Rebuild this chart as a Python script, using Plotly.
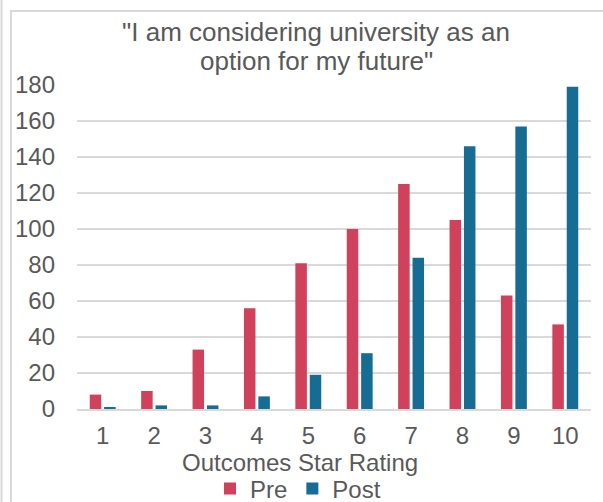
import plotly.graph_objects as go

categories = ["1", "2", "3", "4", "5", "6", "7", "8", "9", "10"]
pre_values = [8, 10, 33, 56, 81, 100, 125, 105, 63, 47]
post_values = [1, 2, 2, 7, 19, 31, 84, 146, 157, 179]
y_ticks = [0, 20, 40, 60, 80, 100, 120, 140, 160, 180]
title_lines = ["\"I am considering university as an", "option for my future\""]
x_title = "Outcomes Star Rating"

W, H = 603, 502
L, R, T, B = 77, 12, 85, 93
PW = W - L - R
PH = H - T - B


def px_x(x):
    return (x - L) / PW


def px_y(y):
    return (H - B - y) / PH


FONT = "Liberation Sans, Arial, sans-serif"
TXT = "#595959"
GRID = "#D9D9D9"

fig = go.Figure()
fig.add_trace(go.Bar(name="Pre", x=categories, y=pre_values,
                     marker=dict(color="#D0415B", line=dict(width=0))))
fig.add_trace(go.Bar(name="Post", x=categories, y=post_values,
                     marker=dict(color="#176C93", line=dict(width=0))))

shapes = [
    dict(type="line", xref="paper", yref="paper",
         x0=px_x(1.5), x1=px_x(1.5), y0=px_y(0), y1=px_y(H),
         line=dict(color=GRID, width=2)),
    dict(type="line", xref="paper", yref="paper",
         x0=px_x(11), x1=px_x(11), y0=px_y(11), y1=px_y(H),
         line=dict(color=GRID, width=2)),
    dict(type="line", xref="paper", yref="paper",
         x0=px_x(10), x1=px_x(W), y0=px_y(11), y1=px_y(11),
         line=dict(color=GRID, width=2)),
]

annotations = [
    dict(text=title_lines[0], xref="paper", yref="paper",
         x=px_x(316), y=px_y(32), xanchor="center", yanchor="middle",
         showarrow=False, font=dict(family=FONT, size=26, color=TXT)),
    dict(text=title_lines[1], xref="paper", yref="paper",
         x=px_x(316), y=px_y(61), xanchor="center", yanchor="middle",
         showarrow=False, font=dict(family=FONT, size=26, color=TXT)),
    dict(text=x_title, xref="paper", yref="paper",
         x=px_x(300), y=px_y(462), xanchor="center", yanchor="middle",
         showarrow=False, font=dict(family=FONT, size=24, color=TXT)),
]

fig.update_layout(
    width=W, height=H,
    margin=dict(l=L, r=R, t=T, b=B, pad=0, autoexpand=False),
    paper_bgcolor="white", plot_bgcolor="white",
    barmode="group", bargap=0.44, bargroupgap=0.2,
    font=dict(family=FONT, size=24, color=TXT),
    showlegend=True,
    legend=dict(orientation="h", x=298 / W, xanchor="center", xref="container",
                y=1 - 489 / H, yanchor="middle", yref="container",
                font=dict(family=FONT, size=24, color=TXT),
                itemwidth=30, tracegroupgap=0, bgcolor="rgba(0,0,0,0)"),
    shapes=shapes,
    annotations=annotations,
    xaxis=dict(showgrid=False, showline=True, linecolor=GRID, linewidth=1.5,
               ticks="", ticklabelstandoff=4, automargin=False,
               tickfont=dict(family=FONT, size=24, color=TXT)),
    yaxis=dict(range=[0, 180], tickvals=y_ticks, showgrid=True,
               gridcolor=GRID, gridwidth=1.5, zeroline=False, automargin=False,
               showline=False, ticks="", ticklabelstandoff=21,
               tickfont=dict(family=FONT, size=24, color=TXT)),
)

fig.write_html("out.html")
